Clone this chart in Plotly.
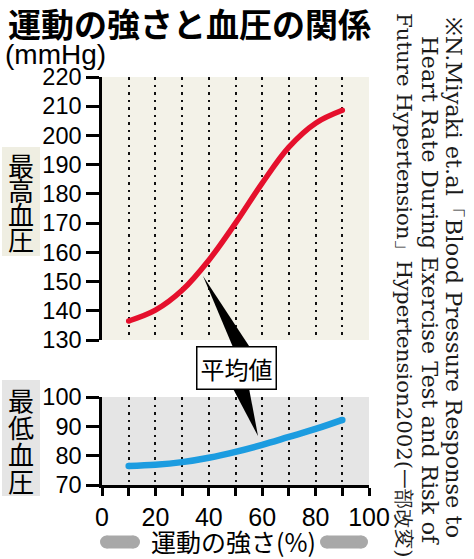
import plotly.graph_objects as go

# ---- data ----
intensity = [10, 20, 30, 40, 50, 60, 70, 80, 90]
systolic = [136.5, 140.2, 147.0, 157.3, 170.0, 183.7, 196.0, 204.2, 208.6]
diastolic = [76.5, 76.9, 77.8, 79.3, 81.3, 83.7, 86.4, 89.1, 92.2]
x_ticks = [0, 10, 20, 30, 40, 50, 60, 70, 80, 90, 100]
x_ticktext = ["0", "", "20", "", "40", "", "60", "", "80", "", "100"]
top_ticks = [130, 140, 150, 160, 170, 180, 190, 200, 210, 220]
bot_ticks = [70, 80, 90, 100]
title_text = "運動の強さと血圧の関係"
unit_text = "(mmHg)"
xlabel_text = "運動の強さ(%)"
top_label = ["最", "高", "血", "圧"]
bot_label = ["最", "低", "血", "圧"]
callout_text = "平均値"
source_lines = [
    "※N.Miyaki et.al「Blood Pressure Response to",
    "Heart Rate During Exercise Test and Risk of",
    "Future Hypertension」Hypertension2002(<span style=\"font-size:19.5px\">一部改変</span>)",
]

W, H = 474, 559
L, R, T, B = 102, 369, 77, 485


def px(x):
    return (x - L) / (R - L)


def py(y):
    return (B - y) / (B - T)


TOP_DOM = [py(340), 1.0]
BOT_DOM = [0.0, py(397)]

JP = "Noto Sans CJK JP"
NUM = "Liberation Sans, Arial, sans-serif"
SERIF = "DejaVu Serif, Liberation Serif, serif"
RED, BLUE = "#e5102c", "#1c9ce0"

fig = go.Figure()
fig.add_trace(go.Scatter(x=intensity, y=systolic, mode="lines",
                         line=dict(color=RED, width=5.5, shape="spline"),
                         xaxis="x", yaxis="y", hoverinfo="skip"))
fig.add_trace(go.Scatter(x=[intensity[0], intensity[-1]], y=[systolic[0], systolic[-1]],
                         mode="markers", marker=dict(color=RED, size=5.5),
                         xaxis="x", yaxis="y", hoverinfo="skip"))
fig.add_trace(go.Scatter(x=intensity, y=diastolic, mode="lines",
                         line=dict(color=BLUE, width=6.5, shape="spline"),
                         xaxis="x2", yaxis="y2", hoverinfo="skip"))
fig.add_trace(go.Scatter(x=[intensity[0], intensity[-1]], y=[diastolic[0], diastolic[-1]],
                         mode="markers", marker=dict(color=BLUE, size=6.5),
                         xaxis="x2", yaxis="y2", hoverinfo="skip"))

grid_common = dict(range=[0, 100], showgrid=True, gridcolor="#111111", gridwidth=2.2,
                   griddash="2.5px,5px", zeroline=False)
yax_common = dict(ticks="outside", ticklen=13, tickwidth=2.5, tickcolor="black",
                  showline=True, linewidth=2.5, linecolor="black", showgrid=False,
                  zeroline=False, tickfont=dict(family=NUM, size=23.5, color="black"))

fig.update_layout(
    width=W, height=H,
    margin=dict(l=L, r=W - R, t=T, b=H - B),
    paper_bgcolor="white", plot_bgcolor="rgba(0,0,0,0)",
    showlegend=False,
    xaxis=dict(domain=[0, 1], anchor="y", tickvals=x_ticks[1:], showticklabels=False,
               ticks="", showline=False, **grid_common),
    xaxis2=dict(domain=[0, 1], anchor="y2", tickvals=x_ticks, ticktext=x_ticktext,
                ticks="outside", ticklen=8, tickwidth=2.5, tickcolor="black",
                showline=True, linewidth=2.5, linecolor="black",
                tickfont=dict(family=NUM, size=25, color="black"), **grid_common),
    yaxis=dict(domain=TOP_DOM, anchor="x", range=[130, 220], tickvals=top_ticks, **yax_common),
    yaxis2=dict(domain=BOT_DOM, anchor="x2", range=[70, 100], tickvals=bot_ticks, **yax_common),
)

shapes = []
# panel backgrounds
shapes.append(dict(type="rect", xref="paper", yref="paper", x0=0, x1=1,
                   y0=TOP_DOM[0], y1=TOP_DOM[1], fillcolor="#f3f2e8", line_width=0, layer="below"))
shapes.append(dict(type="rect", xref="paper", yref="paper", x0=0, x1=1,
                   y0=BOT_DOM[0], y1=BOT_DOM[1], fillcolor="#e5e5e5", line_width=0, layer="below"))
# side label boxes
shapes.append(dict(type="rect", xref="paper", yref="paper", x0=px(2), x1=px(40),
                   y0=py(256), y1=py(147), fillcolor="#efeee2", line_width=0, layer="below"))
shapes.append(dict(type="rect", xref="paper", yref="paper", x0=px(2), x1=px(40),
                   y0=py(496), y1=py(380), fillcolor="#e5e5e5", line_width=0, layer="below"))


def path(pts):
    return "M " + " L ".join(f"{px(a):.4f},{py(b):.4f}" for a, b in pts) + " Z"


# callout wedges
shapes.append(dict(type="path", xref="paper", yref="paper",
                   path=path([(203, 276), (235, 352), (253, 352)]),
                   fillcolor="black", line_width=0, layer="above"))
shapes.append(dict(type="path", xref="paper", yref="paper",
                   path=path([(230, 383), (248, 383), (258, 436)]),
                   fillcolor="black", line_width=0, layer="above"))
# grey bars beside x-axis title
for xa, xb in [(100, 140), (320, 368)]:
    r = 6.5
    yc = 542
    shapes.append(dict(type="rect", xref="paper", yref="paper", x0=px(xa + r), x1=px(xb - r),
                       y0=py(yc + r), y1=py(yc - r), fillcolor="#a8a8a8", line_width=0))
    for xc in (xa + r, xb - r):
        shapes.append(dict(type="circle", xref="paper", yref="paper", x0=px(xc - r), x1=px(xc + r),
                           y0=py(yc + r), y1=py(yc - r), fillcolor="#a8a8a8", line_width=0))
fig.update_layout(shapes=shapes)

ann = []
ann.append(dict(text=title_text, x=px(6), y=py(22.5), xref="paper", yref="paper",
                xanchor="left", yanchor="middle", showarrow=False,
                font=dict(family=JP, size=33, color="black", weight="bold")))
ann.append(dict(text=unit_text, x=px(3), y=py(55), xref="paper", yref="paper",
                xanchor="left", yanchor="middle", showarrow=False,
                font=dict(family=NUM, size=28, color="black")))


def stacked(chars):
    return "<br>".join(f'<span style="font-size:26px">{c}</span>' for c in chars)


ann.append(dict(text=stacked(top_label), x=px(21), y=py(201), xref="paper", yref="paper",
                xanchor="center", yanchor="middle", showarrow=False,
                font=dict(family=JP, size=19, color="black")))
ann.append(dict(text=stacked(bot_label), x=px(21), y=py(440), xref="paper", yref="paper",
                xanchor="center", yanchor="middle", showarrow=False,
                font=dict(family=JP, size=20.8, color="black")))
ann.append(dict(text=callout_text, x=px(236.5), y=py(367.5), xref="paper", yref="paper",
                xanchor="center", yanchor="middle", showarrow=False,
                bgcolor="white", bordercolor="black", borderwidth=1.5, borderpad=3,
                font=dict(family=JP, size=24, color="black")))
ann.append(dict(text=xlabel_text, x=px(233), y=py(541), xref="paper", yref="paper",
                xanchor="center", yanchor="middle", showarrow=False,
                font=dict(family=JP, size=25, color="black")))
for xc, yc, fs, line in zip([454, 430, 405], [278, 291, 285], [22.5, 22.5, 21.3], source_lines):
    ann.append(dict(text=line, x=px(xc), y=py(yc), xref="paper", yref="paper",
                    xanchor="center", yanchor="middle", showarrow=False, textangle=90,
                    font=dict(family=SERIF, size=fs, color="#1a1a1a")))
fig.update_layout(annotations=ann)

fig.write_html("out.html")
